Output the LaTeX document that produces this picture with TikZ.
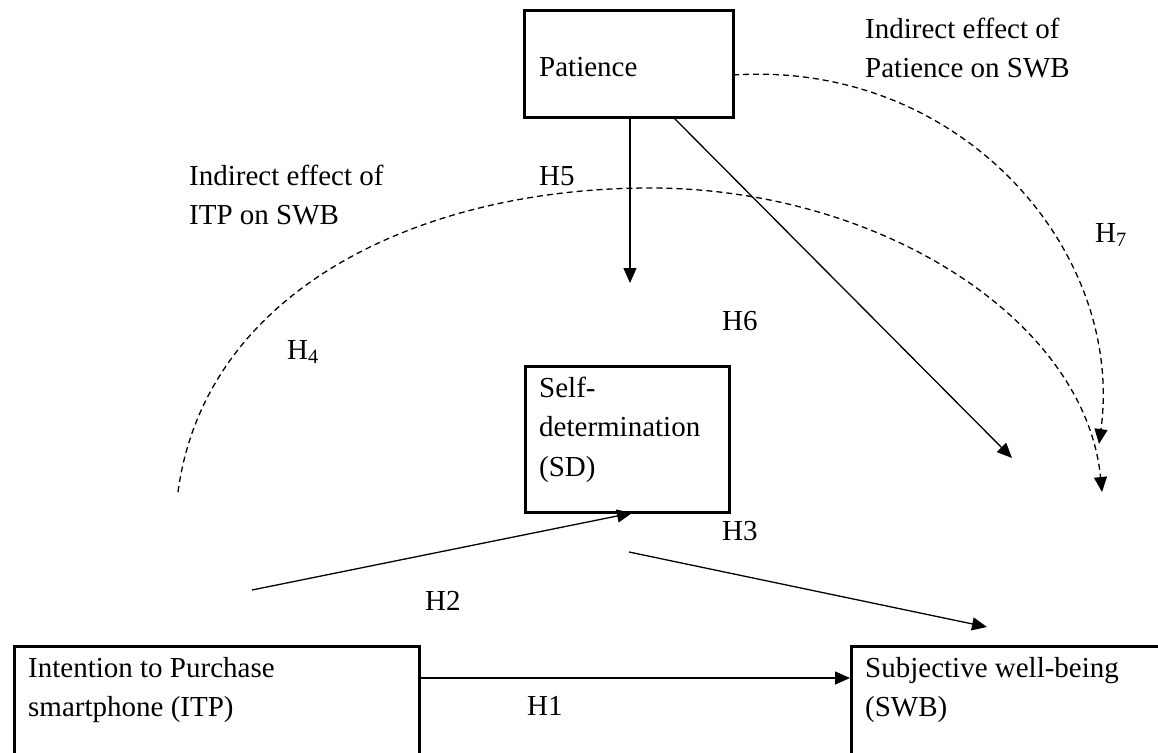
\documentclass[tikz,border=0pt]{standalone}
\usepackage{fontspec}
\setmainfont{Liberation Serif}
\usetikzlibrary{arrows.meta}
\begin{document}
\begin{tikzpicture}[x=1pt,y=-1pt,
  box/.style={draw,line width=2.6pt,rectangle,inner sep=0pt,anchor=north west},
  txt/.style={anchor=base west,inner sep=0pt,align=left,font=\fontsize{29}{39.5}\selectfont},
  arr/.style={line width=1.3pt,-{Triangle[length=15pt,width=13pt]}},
  darr/.style={arr,dash pattern=on 6pt off 4pt}]
\useasboundingbox (0,0) rectangle (1158,752);
\clip (0,0) rectangle (1158,752);
% boxes
\node[box,minimum width=209pt,minimum height=107pt] (pat) at (523,9) {};
\node[box,minimum width=204pt,minimum height=146pt] (sd) at (524,365) {};
\node[box,minimum width=405pt,minimum height=130pt] (itp) at (13,645) {};
\node[box,minimum width=340pt,minimum height=130pt] (swb) at (850,645) {};
% texts (multi-line nodes are placed at the baseline of their last line)
\node[txt] (patT) at (539,77) {Patience};
\node[txt] (sdT) at (539,476) {Self-\\determination\\(SD)};
\node[txt] (itpT) at (28,716.5) {Intention to Purchase\\smartphone (ITP)};
\node[txt] (swbT) at (865,716.5) {Subjective well-being\\(SWB)};
\node[txt] (ipT) at (865,77.5) {Indirect effect of\\Patience on SWB};
\node[txt] (iiT) at (189,224.5) {Indirect effect of\\ITP on SWB};
\node[txt] (h5) at (539,185) {H5};
\node[txt] (h4) at (287,359) {H\textsubscript{4}};
\node[txt] (h7) at (1095,242) {H\textsubscript{7}};
\node[txt] (h6) at (722,330) {H6};
\node[txt] (h3) at (722,540) {H3};
\node[txt] (h2) at (425,610) {H2};
\node[txt] (h1) at (527,715) {H1};
% connector end points
\coordinate (h5s) at (630,118);
\coordinate (h5e) at (630,283);
\coordinate (h6s) at (673,117);
\coordinate (h6e) at (1012,458);
\coordinate (h7s) at (733,75);
\coordinate (h7e) at (1099,444);
\coordinate (h4s) at (178,492);
\coordinate (h4m) at (650,188);
\coordinate (h4e) at (1102,492);
\coordinate (h2s) at (252,590);
\coordinate (h2e) at (632,513);
\coordinate (h3s) at (629,552);
\coordinate (h3e) at (987,627);
\coordinate (h1s) at (418,678);
\coordinate (h1e) at (850,678);
% connectors
\draw[arr] (h5s) -- (h5e);
\draw[arr] (h6s) -- (h6e);
\draw[darr] (h7s) .. controls (960,60) and (1125,250) .. (h7e);
\draw[darr] (h4s) .. controls (205,290) and (420,188) .. (h4m) .. controls (880,188) and (1085,320) .. (h4e);
\draw[arr] (h2s) -- (h2e);
\draw[arr] (h3s) -- (h3e);
\draw[arr] (h1s) -- (h1e);
\end{tikzpicture}
\end{document}
